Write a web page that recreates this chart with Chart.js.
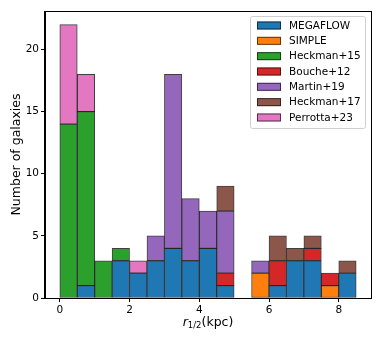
<!DOCTYPE html>
<html>
<head>
<meta charset="utf-8">
<script src="https://cdn.jsdelivr.net/npm/chart.js@4.4.1/dist/chart.umd.min.js"></script>
<style>
  html, body { margin: 0; padding: 0; background: #fff; }
  #wrap { width: 382px; height: 343px; }
</style>
</head>
<body>
<div id="wrap"><canvas id="hist" width="382" height="343"></canvas></div>
<script>
// ---------------------------------------------
// Data (stacked histogram, bin width 0.5 kpc)
// ---------------------------------------------
const binCenters = [0.25, 0.75, 1.25, 1.75, 2.25, 2.75, 3.25, 3.75, 4.25, 4.75, 5.25, 5.75, 6.25, 6.75, 7.25, 7.75, 8.25];

const megaflow   = [0, 1, 0, 3, 2, 3, 4, 3, 4, 1, 0, 0, 1, 3, 3, 0, 2];
const simple     = [0, 0, 0, 0, 0, 0, 0, 0, 0, 0, 0, 2, 0, 0, 0, 1, 0];
const heckman15  = [14, 14, 3, 1, 0, 0, 0, 0, 0, 0, 0, 0, 0, 0, 0, 0, 0];
const bouche12   = [0, 0, 0, 0, 0, 0, 0, 0, 0, 1, 0, 0, 2, 0, 1, 1, 0];
const martin19   = [0, 0, 0, 0, 0, 2, 14, 5, 3, 5, 0, 1, 0, 0, 0, 0, 0];
const heckman17  = [0, 0, 0, 0, 0, 0, 0, 0, 0, 2, 0, 0, 2, 1, 1, 0, 1];
const perrotta23 = [8, 3, 0, 0, 1, 0, 0, 0, 0, 0, 0, 0, 0, 0, 0, 0, 0];

const seriesNames = ['MEGAFLOW', 'SIMPLE', 'Heckman+15', 'Bouche+12', 'Martin+19', 'Heckman+17', 'Perrotta+23'];
const seriesColors = ['#1f77b4', '#ff7f0e', '#2ca02c', '#d62728', '#9467bd', '#8c564b', '#e377c2'];
const seriesValues = [megaflow, simple, heckman15, bouche12, martin19, heckman17, perrotta23];

const xTicks = [0, 2, 4, 6, 8];
const yTicks = [0, 5, 10, 15, 20];

const FONT = "'DejaVu Sans', sans-serif";

// ---------------------------------------------
// Frame, axis labels and legend
// ---------------------------------------------
const decorPlugin = {
    id: 'decor',
    afterDatasetsDraw(chart) {
        const ctx = chart.ctx;
        const a = chart.chartArea;
        ctx.save();
        ctx.strokeStyle = '#000';
        ctx.lineWidth = 1;
        ctx.strokeRect(Math.round(a.left) - 0.5, Math.round(a.top) + 0.5,
                       Math.round(a.right - a.left) + 1, Math.round(a.bottom - a.top));
        ctx.restore();
    },
    afterDraw(chart) {
        const ctx = chart.ctx;
        const a = chart.chartArea;
        ctx.save();
        ctx.fillStyle = '#000';

        // y label
        ctx.font = '12.5px ' + FONT;
        ctx.textAlign = 'center';
        ctx.textBaseline = 'middle';
        ctx.save();
        ctx.translate(17, (a.top + a.bottom) / 2);
        ctx.rotate(-Math.PI / 2);
        ctx.fillText('Number of galaxies', 0, 0);
        ctx.restore();

        // x label: r_{1/2}(kpc)
        const base = 325.5;
        const partR = 'r', partSub = '1/2', partRest = '(kpc)';
        ctx.textBaseline = 'alphabetic';
        ctx.textAlign = 'left';
        ctx.font = 'italic 12.5px ' + FONT;
        const wR = ctx.measureText(partR).width;
        ctx.font = '8.5px ' + FONT;
        const wS = ctx.measureText(partSub).width;
        ctx.font = '12.5px ' + FONT;
        const wP = ctx.measureText(partRest).width;
        let x = (a.left + a.right) / 2 - (wR + wS + wP) / 2;
        ctx.font = 'italic 12.5px ' + FONT;
        ctx.fillText(partR, x, base);
        x += wR;
        ctx.font = '8.5px ' + FONT;
        ctx.fillText(partSub, x, base + 2.5);
        x += wS;
        ctx.font = '12.5px ' + FONT;
        ctx.fillText(partRest, x, base);

        // legend
        const lx = a.right - 121, ly = a.top + 5, lw = 115, lh = 112;
        ctx.fillStyle = 'rgba(255,255,255,0.8)';
        ctx.strokeStyle = '#d0d0d0';
        ctx.lineWidth = 1;
        ctx.beginPath();
        ctx.roundRect(lx + 0.5, ly + 0.5, lw, lh, 2);
        ctx.fill();
        ctx.stroke();
        ctx.font = '10.5px ' + FONT;
        ctx.textBaseline = 'middle';
        chart.data.datasets.forEach((ds, i) => {
            const cy = ly + 9.5 + i * 15.33;
            ctx.fillStyle = ds.backgroundColor;
            ctx.fillRect(lx + 7, cy - 4, 24, 8);
            ctx.strokeStyle = 'rgba(0,0,0,0.6)';
            ctx.strokeRect(lx + 7.5, cy - 3.5, 23, 7);
            ctx.fillStyle = '#000';
            ctx.fillText(ds.label, lx + 39, cy + 0.5);
        });
        ctx.restore();
    }
};

// ---------------------------------------------
// Chart
// ---------------------------------------------
const datasets = seriesNames.map((name, i) => ({
    label: name,
    data: binCenters.map((c, j) => ({ x: c, y: seriesValues[i][j] === 0 ? null : seriesValues[i][j] })),
    backgroundColor: seriesColors[i],
    borderColor: 'rgba(0,0,0,0.75)',
    borderWidth: 1,
    borderSkipped: false,
    barPercentage: 1,
    categoryPercentage: 1,
    stack: 'all'
}));

new Chart(document.getElementById('hist').getContext('2d'), {
    type: 'bar',
    data: { datasets: datasets },
    plugins: [decorPlugin],
    options: {
        responsive: false,
        animation: false,
        devicePixelRatio: 1,
        layout: { padding: { left: 0, top: 11, right: 11, bottom: 0 } },
        plugins: { legend: { display: false }, tooltip: { enabled: false } },
        scales: {
            x: {
                type: 'linear',
                offset: false,
                min: -0.425,
                max: 8.925,
                afterBuildTicks(scale) { scale.ticks = xTicks.map(v => ({ value: v })); },
                afterFit(scale) { scale.height = 45; },
                grid: { offset: false, drawOnChartArea: false, drawTicks: true, tickLength: 4, color: '#000' },
                border: { display: true, color: '#000', width: 1 },
                ticks: { color: '#000', padding: 2, maxRotation: 0, font: { family: FONT, size: 10.5 } }
            },
            y: {
                type: 'linear',
                min: 0,
                max: 23.1,
                afterBuildTicks(scale) { scale.ticks = yTicks.map(v => ({ value: v })); },
                afterFit(scale) { scale.width = 45; },
                grid: { drawOnChartArea: false, drawTicks: true, tickLength: 4, color: '#000' },
                border: { display: true, color: '#000', width: 1 },
                ticks: { color: '#000', padding: 2, font: { family: FONT, size: 10.5 } }
            }
        }
    }
});
</script>
</body>
</html>
